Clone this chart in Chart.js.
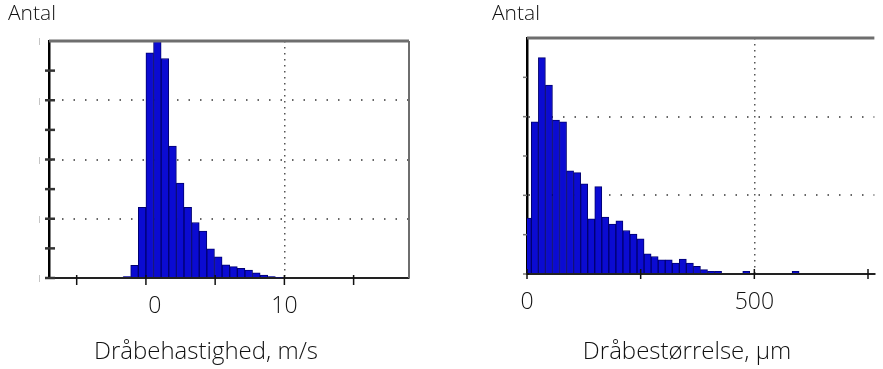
<!DOCTYPE html>
<html>
<head>
<meta charset="utf-8">
<title>Dråbehastighed og dråbestørrelse</title>
<script src="https://cdn.jsdelivr.net/npm/chart.js@4/dist/chart.umd.min.js"></script>
<style>
  body { margin: 0; background: #fff; width: 883px; height: 369px; position: relative; overflow: hidden; font-family: "Open Sans", sans-serif; font-weight: 300; color: #111; }
  canvas { position: absolute; top: 0; }
  .antal { position: absolute; top: 2px; font-size: 21px; line-height: 21px; white-space: nowrap; }
  .axtitle { position: absolute; top: 338px; font-size: 24px; line-height: 24px; white-space: nowrap; transform: translateX(-50%); }
</style>
</head>
<body>
<canvas id="speedChart" width="440" height="369" style="left:0"></canvas>
<canvas id="sizeChart" width="393" height="369" style="left:490px"></canvas>
<div class="antal" style="left:8px">Antal</div>
<div class="antal" style="left:492px">Antal</div>
<div class="axtitle" style="left:206px">Dråbehastighed, m/s</div>
<div class="axtitle" style="left:687px">Dråbestørrelse, µm</div>

<script>
// Dråbehastighed (m/s): bin centres and counts (top of plot = 100)
const speedBins = [-1.375, -0.825, -0.275, 0.275, 0.825, 1.375, 1.925, 2.475, 3.025, 3.575, 4.125,
  4.675, 5.225, 5.775, 6.325, 6.875, 7.425, 7.975, 8.525, 9.075, 9.625];
const speedCounts = [0.6, 5.3, 29.8, 95, 100, 92.6, 55.7, 40, 29.8, 23.4, 19.8,
  12.3, 8.9, 5.6, 4.8, 4.1, 3.3, 2.2, 1.2, 0.6, 0.3];
const speedTicks = [-5, 0, 5, 10, 15];
const speedTickLabels = ['', '0', '', '10', ''];
const speedYTicks = [0, 12.5, 25, 37.5, 50, 62.5, 75, 87.5, 100];
const speedGrid = [25, 50, 75];

// Dråbestørrelse (µm): bin centres and counts (top of plot = 300)
const sizeBins = [1.75, 17.25, 32.75, 48.25, 63.75, 79.25, 94.75, 110.25, 125.75, 141.25, 156.75,
  172.25, 187.75, 203.25, 218.75, 234.25, 249.75, 265.25, 280.75, 296.25, 311.75, 327.25,
  342.75, 358.25, 373.75, 389.25, 404.75, 420.25, 435.75, 451.25, 466.75, 482.25, 497.75,
  513.25, 528.75, 544.25, 559.75, 575.25, 590.75];
const sizeCounts = [71, 193.5, 275, 240, 195.6, 193.5, 131, 128.8, 114.5, 70, 111,
  72.3, 63.4, 67.6, 55.3, 50.7, 44.8, 25.7, 22.3, 18.1, 18.1, 14,
  19, 14, 9.6, 5.5, 3.3, 3.3, 0, 0, 0, 3.5, 0,
  0, 0, 0, 0, 0, 3.5];
const sizeTicks = [0, 250, 500, 750];
const sizeTickLabels = ['0', '', '500', ''];
const sizeYTicks = [0, 50, 100, 150, 200, 250, 300];
const sizeGrid = [100, 200];

// top/right frame + short tick marks crossing the axes
const framePlugin = {
  id: 'frame',
  afterDatasetsDraw(chart, args, opts) {
    const { ctx, chartArea: a, scales: { x, y } } = chart;
    const line = (x1, y1, x2, y2) => { ctx.beginPath(); ctx.moveTo(x1, y1); ctx.lineTo(x2, y2); ctx.stroke(); };
    ctx.save();
    ctx.strokeStyle = opts.frameColor;
    ctx.lineWidth = 3;
    line(a.left, a.top, a.right, a.top);
    if (opts.rightBorder) {
      ctx.lineWidth = 2;
      line(a.right, a.top, a.right, a.bottom);
    }
    ctx.strokeStyle = opts.yTickColor;
    ctx.lineWidth = opts.yTickWidth;
    y.ticks.forEach((t, i) => {
      if (t.value === y.max) return;
      const py = y.getPixelForTick(i);
      line(a.left + opts.yTick[0], py, a.left + opts.yTick[1], py);
    });
    ctx.strokeStyle = '#111';
    ctx.lineWidth = 1.5;
    x.ticks.forEach((t, i) => {
      const px = x.getPixelForTick(i);
      line(px, a.bottom + opts.xTick[0], px, a.bottom + opts.xTick[1]);
    });
    ctx.restore();
  }
};

function makeChart(id, cfg) {
  const ctx = document.getElementById(id).getContext('2d');
  return new Chart(ctx, {
    type: 'bar',
    data: {
      datasets: [{
        data: cfg.bins.map((b, i) => ({ x: b, y: cfg.counts[i] })),
        backgroundColor: '#0b0bd2',
        borderColor: '#000070',
        borderWidth: 1,
        borderSkipped: 'bottom',
        barPercentage: 1,
        categoryPercentage: 1
      }]
    },
    plugins: [framePlugin],
    options: {
      responsive: false,
      animation: false,
      layout: { padding: cfg.padding },
      scales: {
        x: {
          type: 'linear',
          min: cfg.xMin,
          max: cfg.xMax,
          offset: false,
          afterBuildTicks: s => { s.ticks = cfg.xTicks.map(v => ({ value: v })); },
          afterFit: s => { s.height = cfg.xHeight; },
          grid: {
            offset: false,
            drawTicks: false,
            lineWidth: 1.5,
            color: c => (c.tick && c.tick.value === cfg.xGridAt) ? '#555' : 'transparent'
          },
          border: { color: '#222', width: 2, dash: [1.5, 4.5] },
          ticks: {
            autoSkip: false,
            maxRotation: 0,
            padding: 15,
            color: '#111',
            font: { family: 'Open Sans', size: 23, weight: 300 },
            callback: (v, i) => cfg.xLabel(i)
          }
        },
        y: {
          min: 0,
          max: cfg.yMax,
          afterBuildTicks: s => { s.ticks = cfg.yTicks.map(v => ({ value: v })); },
          afterFit: s => { s.width = cfg.yWidth; },
          grid: {
            drawTicks: false,
            lineWidth: 2,
            color: c => (c.tick && cfg.yGrid.includes(c.tick.value)) ? '#666' : 'transparent'
          },
          border: { color: '#000', width: 2.5, dash: [1.5, 10] },
          ticks: {
            display: cfg.yBars,
            padding: 7,
            color: '#999',
            font: { family: 'Open Sans', size: 8 },
            callback: v => (v % (cfg.yMax / 4) === 0 ? '|' : '')
          }
        }
      },
      plugins: {
        legend: { display: false },
        tooltip: { enabled: false },
        frame: cfg.frame
      }
    }
  });
}

makeChart('speedChart', {
  bins: speedBins, counts: speedCounts,
  xMin: -7, xMax: 19, xTicks: speedTicks, xGridAt: 10,
  // the 0 label sits a little right of its tick in the original
  xLabel: i => (speedTickLabels[i] === '0' ? '   0' : speedTickLabels[i]),
  yMax: 100, yTicks: speedYTicks, yGrid: speedGrid, yBars: true,
  padding: { top: 41, right: 31, left: 0, bottom: 0 },
  xHeight: 91, yWidth: 49,
  frame: { frameColor: '#6e6e6e', rightBorder: true, yTickColor: '#333', yTickWidth: 2.5, yTick: [-4, 6], xTick: [-3, 7] }
});

makeChart('sizeChart', {
  bins: sizeBins, counts: sizeCounts,
  xMin: 0, xMax: 764, xTicks: sizeTicks, xGridAt: 500,
  xLabel: i => sizeTickLabels[i],
  yMax: 300, yTicks: sizeYTicks, yGrid: sizeGrid, yBars: false,
  padding: { top: 38, right: 0, left: 0, bottom: 0 },
  xHeight: 95, yWidth: 37,
  frame: { frameColor: '#6e6e6e', rightBorder: false, yTickColor: '#777', yTickWidth: 1.5, yTick: [-4, 0], xTick: [-5, 5] }
});
</script>
</body>
</html>
